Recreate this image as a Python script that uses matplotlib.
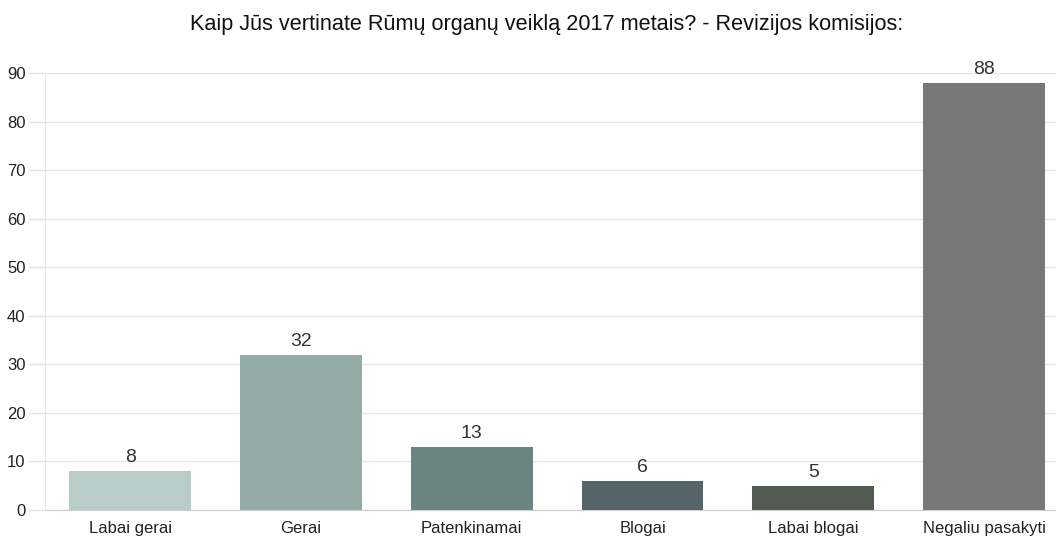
import matplotlib.pyplot as plt
import numpy as np

plt.rcParams["font.family"] = ["Liberation Sans", "DejaVu Sans"]

categories = ["Labai gerai", "Gerai", "Patenkinamai", "Blogai", "Labai blogai", "Negaliu pasakyti"]
values = [8, 32, 13, 6, 5, 88]
colors = ["#b8ccc8", "#95aba6", "#6a8582", "#56646b", "#525b52", "#787878"]
yticks = [0, 10, 20, 30, 40, 50, 60, 70, 80, 90]
title = "Kaip Jūs vertinate Rūmų organų veiklą 2017 metais? - Revizijos komisijos:"

fig = plt.figure(figsize=(10.56, 5.44), dpi=100)
# axes runs a little past the right edge, like the original
ax = fig.add_axes([0.0426, 0.0625, 0.970, 0.8033])

x = np.arange(len(categories))
ax.bar(x, values, 0.714, color=colors, zorder=3)
for xi, v in zip(x, values):
    ax.text(xi, v + 1.0, str(v), ha="center", va="bottom", fontsize=14, color="#333333")

ax.set_xlim(-0.5, len(categories) - 0.5)
ax.set_ylim(0, 90)
ax.set_yticks(yticks)
ax.set_xticks(x)
ax.set_xticklabels(categories, fontsize=12, color="#222222")
ax.tick_params(axis="y", labelsize=12, labelcolor="#222222", length=12, color="#e4e4e4", width=1, pad=2)
ax.tick_params(axis="x", length=0, pad=8)
ax.grid(True, axis="y", color="#e6e6e6", linewidth=1, zorder=0)

for s in ["top", "right"]:
    ax.spines[s].set_visible(False)
ax.spines["left"].set_color("#e6e6e6")
ax.spines["bottom"].set_color("#cfcfcf")

fig.text(0.518, 0.955, title, ha="center", va="center", fontsize=15.6, color="#111111")

plt.savefig("out.png", dpi=100)
plt.close()
